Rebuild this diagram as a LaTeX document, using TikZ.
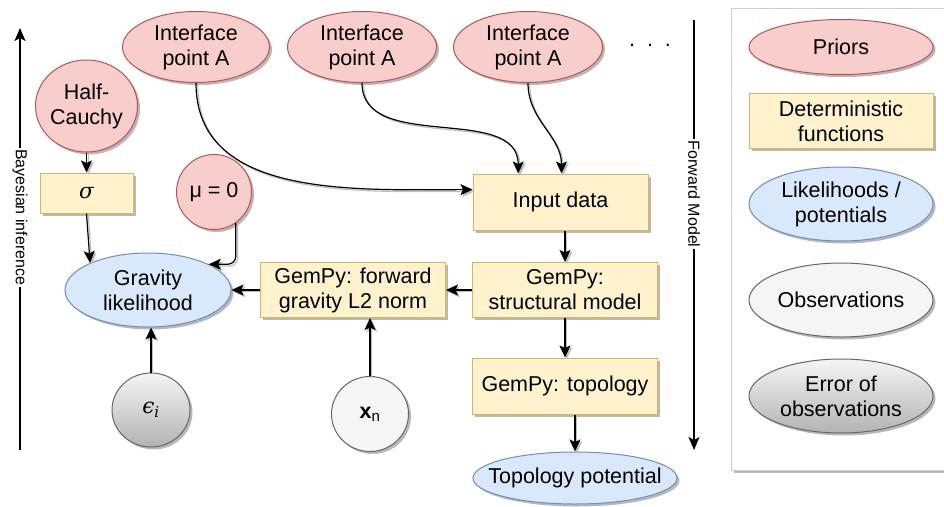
\documentclass[tikz,border=0pt]{standalone}
\usepackage{fontspec}
\setmainfont{Liberation Sans}
\newfontfamily\grkfont{DejaVu Serif}
\usetikzlibrary{shapes.geometric,shadows,arrows.meta}
\definecolor{priorfill}{HTML}{F8CECC}\definecolor{priordraw}{HTML}{B85450}
\definecolor{detfill}{HTML}{FFF2CC}\definecolor{detdraw}{HTML}{D6B656}
\definecolor{likfill}{HTML}{DAE8FC}\definecolor{likdraw}{HTML}{6C8EBF}
\definecolor{obsfill}{HTML}{F5F5F5}\definecolor{obsdraw}{HTML}{666666}
\definecolor{errbot}{HTML}{B3B3B3}
\newcommand\mainfs{\fontsize{21.5}{25}\selectfont}
\newcommand\axisfs{\fontsize{16}{18}\selectfont}
\begin{document}
\begin{tikzpicture}[x=1pt,y=-1pt,
  myshadow/.style={drop shadow={shadow xshift=2.5pt,shadow yshift=-2.5pt,fill=black,opacity=0.28}},
  base/.style={line width=1pt, myshadow, align=center, font=\mainfs, text=black},
  ell/.style={base, ellipse, inner xsep=-10pt, inner ysep=-4pt},
  prior/.style={ell, draw=priordraw, fill=priorfill},
  lik/.style={ell, draw=likdraw, fill=likfill},
  obs/.style={ell, draw=obsdraw, fill=obsfill},
  err/.style={ell, draw=obsdraw, top color=obsfill, bottom color=errbot},
  det/.style={base, rectangle, draw=detdraw, fill=detfill, inner sep=0pt},
  edge/.style={line width=1.2pt, -{Stealth[length=12pt,width=11pt,inset=2.5pt]},
    preaction={draw=black!25, line width=1.2pt, transform canvas={shift={(1.8pt,-1.8pt)}}}},
  axis/.style={line width=1.3pt, -{Stealth[length=13pt,width=11pt,inset=3pt]}},
  axislabel/.style={fill=white, inner sep=1.5pt, font=\axisfs, rotate=-90}
]
\useasboundingbox (0,0) rectangle (944,506);

% legend frame
\node[draw=black!20, fill=white, line width=1pt, myshadow, minimum width=219pt, minimum height=462pt, inner sep=0pt] (legend) at (840.5,239) {};

% axes
\coordinate (bayesbot) at (20,450);
\coordinate (bayestop) at (20,28);
\draw[axis] (bayesbot) -- node[axislabel, pos=0.552] (bayeslab) {Bayesian inference} (bayestop);
\coordinate (fwtop) at (694,20);
\coordinate (fwbot) at (694,450);
\draw[axis] (fwtop) -- node[axislabel, pos=0.405] (fwlab) {Forward Model} (fwbot);

% nodes
\node[prior, minimum width=147pt, minimum height=71pt] (ip1) at (196,47) {Interface\\point A};
\node[prior, minimum width=149pt, minimum height=71pt] (ip2) at (362,47) {Interface\\point A};
\node[prior, minimum width=149pt, minimum height=71pt] (ip3) at (528,47) {Interface\\point A};
\node[font=\mainfs] (dots) at (650,45) {.\hspace{12pt}.\hspace{12pt}.};

\node[prior, minimum width=102pt, minimum height=92pt] (hc) at (86.5,106) {Half-\\Cauchy};
\node[det, minimum width=93pt, minimum height=40pt] (sigma) at (86.5,193) {{\grkfont\itshape σ}};
\node[prior, minimum width=75pt, minimum height=75pt] (mu) at (214,192) {μ = 0};
\node[lik, minimum width=166pt, minimum height=74pt] (grav) at (148,290) {Gravity\\likelihood};
\node[det, minimum width=185pt, minimum height=55pt] (fwd) at (353,290) {GemPy: forward\\gravity L2 norm};
\node[det, minimum width=175pt, minimum height=56pt] (input) at (560.5,202) {Input data};
\node[det, minimum width=185pt, minimum height=55pt] (struct) at (565,290) {GemPy:\\structural model};
\node[det, minimum width=185pt, minimum height=56pt] (topo) at (565,386) {GemPy: topology};
\node[lik, inner xsep=-40pt, minimum width=204pt, minimum height=52pt] (tpot) at (575,478) {Topology potential};
\node[err, minimum width=78pt, minimum height=74pt] (eps) at (151,410) {{\grkfont\itshape ϵ\textsubscript{i}}};
\node[obs, minimum width=77pt, minimum height=75pt] (xn) at (370,414) {\textbf{x}\textsubscript{n}};

% legend entries
\node[prior, minimum width=184pt, minimum height=55pt] (lp) at (841,47) {Priors};
\node[det, minimum width=184pt, minimum height=55pt] (ld) at (841,121) {Deterministic\\functions};
\node[lik, minimum width=184pt, minimum height=74pt] (ll) at (841,204) {Likelihoods /\\potentials};
\node[obs, inner xsep=-20pt, minimum width=184pt, minimum height=74pt] (lo) at (841,300) {Observations};
\node[err, minimum width=184pt, minimum height=74pt] (le) at (841,396) {Error of\\observations};

% connectors
\draw[edge] (hc) -- (sigma);
\draw[edge] (sigma.south) -- (grav.155);
\draw[edge, rounded corners=8pt] (mu.-55) |- (grav.23);
\draw[edge] (ip1.south) to[out=-90,in=180] (input.172);
\draw[edge] (ip2.south) to[out=-90,in=90] (input.146);
\draw[edge] (ip3.south) to[out=-90,in=90] (input.88);
\draw[edge] (input.south -| struct.north) -- (struct.north);
\draw[edge] (struct.west) -- (fwd.east);
\draw[edge] (fwd.west) -- (grav.east);
\draw[edge] (eps.north) -- (eps.north |- grav.south);
\draw[edge] (xn.north) -- (xn.north |- fwd.south);
\draw[edge] (struct) -- (topo);
\draw[edge] (topo.south -| tpot.north) -- (tpot.north);
\end{tikzpicture}
\end{document}
